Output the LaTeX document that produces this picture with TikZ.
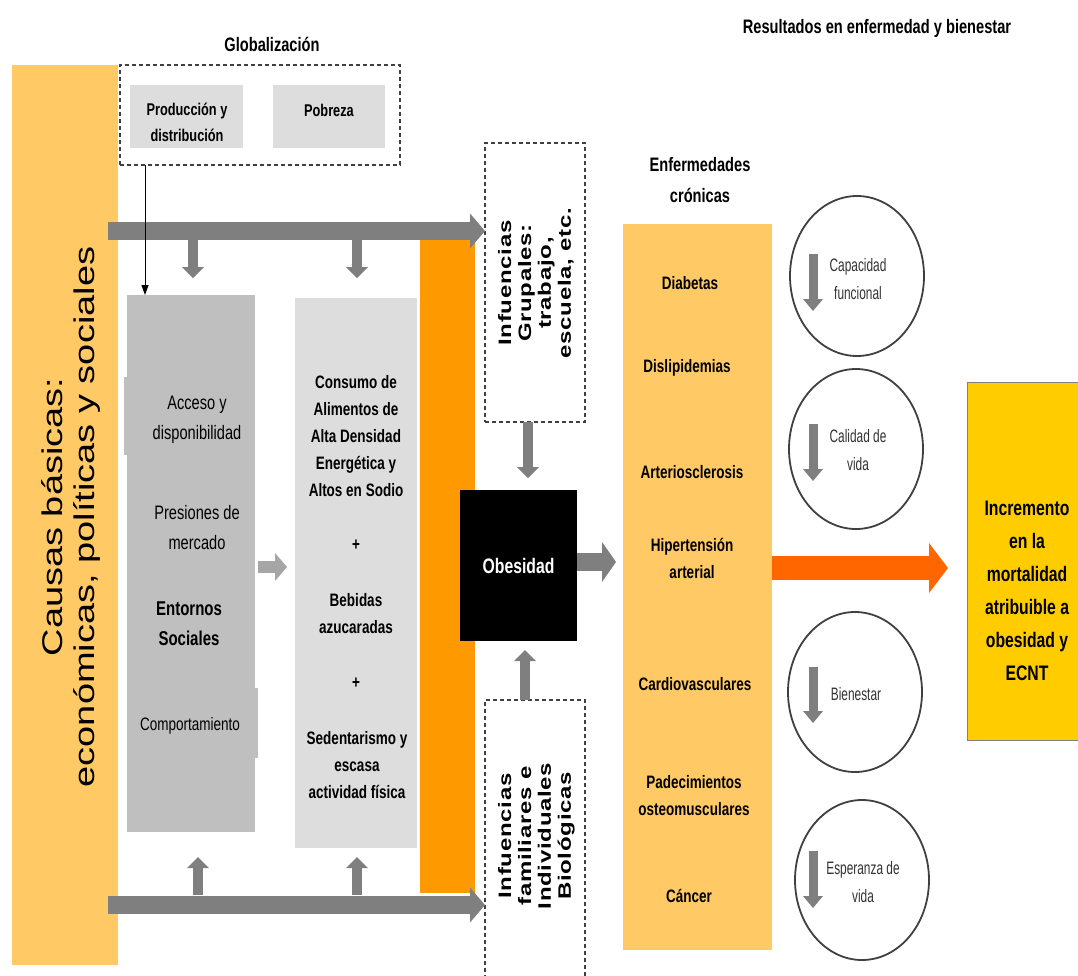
\documentclass[tikz,border=0pt]{standalone}
\usepackage{fontspec}
\usepackage{graphicx}
\setmainfont{Liberation Sans}
\newfontfamily\nar[FakeStretch=0.75]{Liberation Sans}
\newfontfamily\narc[FakeStretch=0.66]{Liberation Sans}
\newfontfamily\spc[LetterSpace=3]{Liberation Sans}
\usetikzlibrary{arrows.meta,shapes.geometric,calc}
\definecolor{ylo}{HTML}{FFC966}
\definecolor{org}{HTML}{FF9900}
\definecolor{orgb}{HTML}{FF6600}
\definecolor{gold}{HTML}{FFCC00}
\definecolor{gA}{HTML}{BFBFBF}
\definecolor{gB}{HTML}{DDDDDD}
\definecolor{arr}{HTML}{7F7F7F}
\definecolor{arrl}{HTML}{A6A6A6}
\definecolor{dash}{HTML}{404040}
\definecolor{txtg}{HTML}{333333}
\begin{document}
\begin{tikzpicture}[x=1pt,y=-1pt,
  bx/.style={anchor=north west, inner sep=0pt, outer sep=0pt},
  dbox/.style={bx, draw=dash, line width=1.5pt, dash pattern=on 4pt off 3pt},
  ttl/.style={font=\nar\bfseries\fontsize{19.5}{31}\selectfont, align=center, inner sep=0pt},
  lblb/.style={font=\nar\bfseries\fontsize{18}{27}\selectfont, align=center, inner sep=0pt},
  lblr/.style={font=\nar\fontsize{19.5}{30}\selectfont, align=center, inner sep=0pt},
  lblc/.style={font=\narc\fontsize{18}{28}\selectfont, text=txtg, align=center, inner sep=0pt},
  bigarrow/.style={draw=arr, line width=18pt, -{Triangle[width=35pt,length=15pt,line width=0pt]}},
  smallarrow/.style={draw=arr, line width=10pt, -{Triangle[width=22pt,length=11pt,line width=0pt]}},
  circarrow/.style={draw=arr, line width=9pt, -{Triangle[width=20pt,length=12pt,line width=0pt]}},
  oval/.style={ellipse, draw=dash, line width=1.8pt, minimum width=134pt, minimum height=160pt, inner sep=0pt}
]
\useasboundingbox[fill=white] (0,0) rectangle (1078,975);

% titles
\node[ttl] (tglob) at (272,44) {Globalización};
\node[ttl] (tres) at (877,28) {Resultados en enfermedad y bienestar};

% left bar
\node[bx, fill=ylo, minimum width=106pt, minimum height=900pt] (causas) at (12,65) {};
\node[rotate=90, inner sep=0pt] (causastxt) at (72,517) {\scalebox{1}[0.75]{\fontsize{38}{42}\selectfont\begin{tabular}{@{}c@{}}Causas básicas:\\económicas, políticas y sociales\end{tabular}}};

% globalizacion box
\node[dbox, minimum width=280pt, minimum height=100pt] (glob) at (120,65) {};
\node[bx, fill=gB, minimum width=113pt, minimum height=63pt] (prod) at (130,85) {};
\node[lblb, font=\nar\bfseries\fontsize{17}{26}\selectfont] (prodtxt) at (187,122) {Producción y\\distribución};
\node[bx, fill=gB, minimum width=112pt, minimum height=63pt] (pob) at (273,85) {};
\node[lblb, font=\nar\bfseries\fontsize{17}{26}\selectfont] (pobtxt) at (329,110) {Pobreza};

% box 1
\node[bx, fill=gA, minimum width=128pt, minimum height=537pt] (box1) at (127,295) {};
\fill[gA] (124,377) rectangle (130,455);
\fill[gA] (250,688) rectangle (258,758);
\node[lblr] (acceso) at (197,420) {Acceso y\\disponibilidad};
\node[lblr] (presiones) at (197,528) {Presiones de\\mercado};
\node[lblr, font=\nar\bfseries\fontsize{20}{30}\selectfont] (entornos) at (189,624) {Entornos\\Sociales};
\node[lblr, font=\nar\fontsize{18}{27}\selectfont] (comp) at (190,726) {Comportamiento};

% box 2
\node[bx, fill=gB, minimum width=122pt, minimum height=550pt] (box2) at (295,298) {};
\node[lblb] (consumo) at (356,436) {Consumo de\\Alimentos de\\Alta Densidad\\Energética y\\Altos en Sodio};
\node[lblb] (plus1) at (356,545) {+};
\node[lblb] (bebidas) at (356,614) {Bebidas\\azucaradas};
\node[lblb] (plus2) at (356,683) {+};
\node[lblb] (sed) at (357,765) {Sedentarismo y\\escasa\\actividad física};

% orange bar
\node[bx, fill=org, minimum width=55pt, minimum height=653pt] (obar) at (420,240) {};

% influence boxes
\node[dbox, minimum width=100pt, minimum height=279pt] (grup) at (485,143) {};
\node[rotate=90, inner sep=0pt] (gruptxt) at (537,283) {\scalebox{1}[0.75]{\spc\bfseries\fontsize{24}{26.5}\selectfont\begin{tabular}{@{}c@{}}Infuencias\\Grupales:\\trabajo,\\escuela, etc.\end{tabular}}};
\node[dbox, minimum width=100pt, minimum height=295pt] (indiv) at (485,700) {};
\node[rotate=90, inner sep=0pt] (indivtxt) at (537,836) {\scalebox{1}[0.75]{\spc\bfseries\fontsize{24}{26.5}\selectfont\begin{tabular}{@{}c@{}}Infuencias\\familiares e\\Individuales\\Biológicas\end{tabular}}};

% obesidad
\node[bx, fill=black, minimum width=117pt, minimum height=151pt] (obes) at (460,490) {};
\node[font=\nar\bfseries\fontsize{21}{26}\selectfont, text=white, inner sep=0pt] (obestxt) at (obes.center) {Obesidad};

% enfermedades
\node[ttl] (tenf) at (700,180) {Enfermedades\\crónicas};
\node[bx, fill=ylo, minimum width=149pt, minimum height=726pt] (enf) at (623,224) {};
\node[lblb] (e1) at (690,283) {Diabetas};
\node[lblb] (e2) at (687,368) {Dislipidemias};
\node[lblb] (e3) at (692,472) {Arteriosclerosis};
\node[lblb] (e4) at (692,558) {Hipertensión\\arterial};
\node[lblb] (e5) at (695,684) {Cardiovasculares};
\node[lblb] (e6) at (694,796) {Padecimientos\\osteomusculares};
\node[lblb] (e7) at (689,896) {Cáncer};

% circles
\node[oval] (c1) at (857,276) {};
\node[oval] (c2) at (856,449) {};
\node[oval] (c3) at (855,692) {};
\node[oval] (c4) at (862,880) {};
\node[lblc] (c1t) at (858,279) {Capacidad\\funcional};
\node[lblc] (c2t) at (858,450) {Calidad de\\vida};
\node[lblc] (c3t) at (856,694) {Bienestar};
\node[lblc] (c4t) at (863,882) {Esperanza de\\vida};
\coordinate (a1s) at (813,254); \coordinate (a1e) at (813,311);
\coordinate (a2s) at (813,424); \coordinate (a2e) at (813,481);
\coordinate (a3s) at (813,667); \coordinate (a3e) at (813,723);
\coordinate (a4s) at (813,851); \coordinate (a4e) at (813,908);
\draw[circarrow] (a1s) -- (a1e);
\draw[circarrow] (a2s) -- (a2e);
\draw[circarrow] (a3s) -- (a3e);
\draw[circarrow] (a4s) -- (a4e);

% final box
\node[bx, fill=gold, draw=gray, line width=1pt, minimum width=120pt, minimum height=358pt] (final) at (967,382) {};
\node[font=\nar\bfseries\fontsize{21}{33}\selectfont, align=center, inner sep=0pt] (finaltxt) at (1027,591) {Incremento\\en la\\mortalidad\\atribuible a\\obesidad y\\ECNT};

% connectors
\coordinate (ts) at (108,231);
\draw[bigarrow] (ts) -- (ts -| grup.west);
\coordinate (bs) at (108,905);
\draw[bigarrow] (bs) -- (bs -| indiv.west);

\coordinate (d1s) at (193,240); \coordinate (d1e) at (193,278);
\coordinate (d2s) at (357,240); \coordinate (d2e) at (357,278);
\draw[smallarrow] (d1s) -- (d1e);
\draw[smallarrow] (d2s) -- (d2e);
\coordinate (u1s) at (198,895); \coordinate (u1e) at (198,857);
\coordinate (u2s) at (357,895); \coordinate (u2e) at (357,857);
\draw[smallarrow] (u1s) -- (u1e);
\draw[smallarrow] (u2s) -- (u2e);

\draw[line width=1pt, -{Triangle[width=7pt,length=10pt]}] ($(glob.south west)+(25,0)$) -- ($(box1.north west)+(18,0)$);

\coordinate (m1) at (258,567);
\draw[draw=arrl, line width=12pt, -{Triangle[width=28pt,length=12pt,line width=0pt]}] (m1) -- ($(box2.west |- m1)+(-8,0)$);

\draw[smallarrow] ($(grup.south)+(-7,0)$) -- ($(obes.north)+(9.5,-12)$);
\draw[smallarrow] ($(indiv.north)+(-10,0)$) -- ($(obes.south)+(6.5,9)$);

\coordinate (o1) at (577,562);
\draw[draw=arr, line width=18pt, -{Triangle[width=40pt,length=14pt,line width=0pt]}] (o1) -- ($(enf.west |- o1)+(-7,0)$);

\coordinate (o2) at (772,568);
\draw[draw=orgb, line width=24pt, -{Triangle[width=50pt,length=19pt,line width=0pt]}] (o2) -- ($(final.west |- o2)+(-19,0)$);
\end{tikzpicture}
\end{document}
